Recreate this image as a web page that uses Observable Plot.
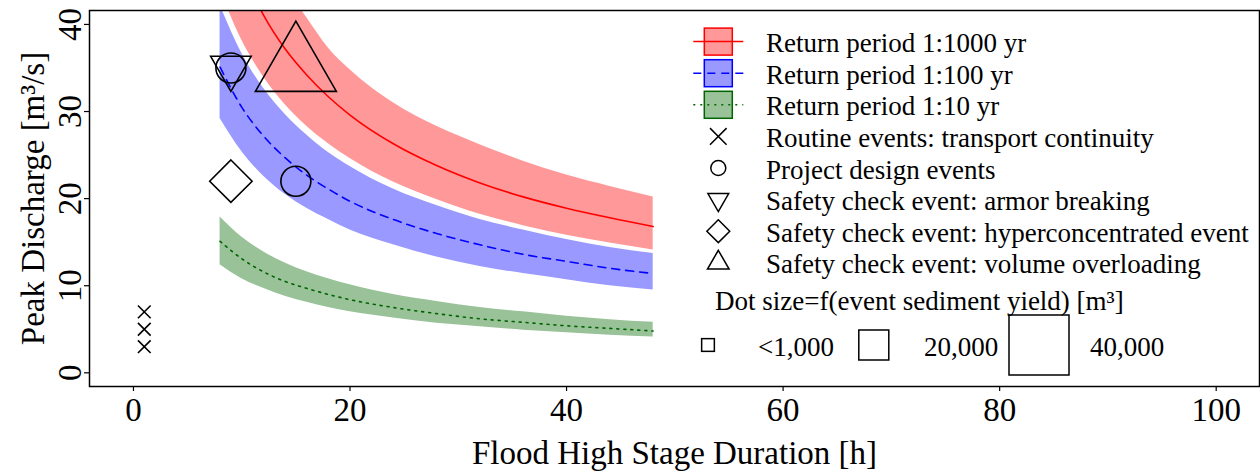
<!DOCTYPE html>
<html><head><meta charset="utf-8">
<script src="https://cdn.jsdelivr.net/npm/d3@7"></script>
<script src="https://cdn.jsdelivr.net/npm/@observablehq/plot@0.6"></script>
<style>
body{margin:0;background:#fff;}
#wrap{position:relative;width:1260px;height:472px;background:#fff;}
#wrap svg{position:absolute;left:0;top:0;}
</style></head><body><div id="wrap"></div>
<script>
// ---- data ----
const durations  = [8, 10, 12, 14, 16, 18, 20, 24, 28, 32, 36, 40, 44, 48];
const rp1000Low  = [44.0, 38.2, 34.0, 30.8, 28.3, 26.3, 24.6, 21.9, 19.9, 18.2, 16.9, 15.8, 14.9, 14.1];
const rp1000Mid  = [53.5, 46.3, 41.1, 37.2, 34.2, 31.7, 29.6, 26.3, 23.8, 21.8, 20.2, 18.9, 17.8, 16.8];
const rp1000High = [63.6, 55.1, 49.0, 44.4, 40.8, 37.3, 34.8, 31.0, 28.3, 26.2, 24.3, 22.7, 21.4, 20.2];
const rp100Low   = [29.2, 25.4, 22.6, 20.5, 18.9, 17.6, 16.4, 14.7, 13.3, 12.2, 11.4, 10.7, 10.0, 9.5];
const rp100Mid   = [35.1, 30.5, 27.2, 24.7, 22.7, 21.1, 19.7, 17.6, 16.0, 14.7, 13.6, 12.8, 12.0, 11.4];
const rp100High  = [42.2, 36.7, 32.7, 29.7, 27.3, 25.3, 23.7, 21.1, 19.2, 17.6, 16.4, 15.3, 14.4, 13.7];
const rp10Low    = [12.4, 10.8, 9.7, 8.8, 8.1, 7.5, 7.0, 6.3, 5.7, 5.3, 4.9, 4.6, 4.3, 4.1];
const rp10Mid    = [15.1, 13.1, 11.6, 10.5, 9.7, 9.0, 8.4, 7.5, 6.8, 6.2, 5.8, 5.4, 5.1, 4.8];
const rp10High   = [17.9, 15.6, 13.9, 12.6, 11.6, 10.8, 10.1, 9.0, 8.2, 7.5, 7.0, 6.5, 6.1, 5.8];

const bandLabels = ["Return period 1:1000 yr", "Return period 1:100 yr", "Return period 1:10 yr"];

const eventDuration = [1, 1, 1, 9, 15, 9, 9, 15];
const eventPeak     = [3, 5, 7, 35, 22, 35, 22, 35];
const eventType     = ["routine", "routine", "routine", "design", "design", "armor", "hyper", "volume"];
const eventYield    = [1000, 1000, 1000, 20000, 20000, 20000, 20000, 40000];

const eventTypes  = ["routine", "design", "armor", "hyper", "volume"];
const eventLabels = ["Routine events: transport continuity", "Project design events",
  "Safety check event: armor breaking", "Safety check event: hyperconcentrated event",
  "Safety check event: volume overloading"];

const sizeValues = [1000, 20000, 40000];
const sizeLabels = ["<1,000", "20,000", "40,000"];

const xTicks = [0, 20, 40, 60, 80, 100];
const yTicks = [0, 10, 20, 30, 40];
const xTitle = "Flood High Stage Duration [h]";
const yTitle = "Peak Discharge [m³/s]";
const sizeTitle = "Dot size=f(event sediment yield) [m³]";

// ---- styles ----
const serif = "'Liberation Serif','Times New Roman',serif";
const bands = [
  {low: rp1000Low, mid: rp1000Mid, high: rp1000High, fill: "#ff9999", stroke: "#ff0000", dash: null},
  {low: rp100Low,  mid: rp100Mid,  high: rp100High,  fill: "#9999ff", stroke: "#0000ff", dash: "8,6"},
  {low: rp10Low,   mid: rp10Mid,   high: rp10High,   fill: "#99c299", stroke: "#006400", dash: "2,5"}
];

// shape drawers: r = half side of the reference square
const shapes = {
  routine(ctx, r) { ctx.moveTo(-r, -r); ctx.lineTo(r, r); ctx.moveTo(-r, r); ctx.lineTo(r, -r); },
  design(ctx, r) { ctx.moveTo(r, 0); ctx.arc(0, 0, r, 0, 2 * Math.PI); },
  armor(ctx, r) { const s = 2.7 * r, h = s * Math.sqrt(3) / 2;
    ctx.moveTo(0, 2 * h / 3); ctx.lineTo(s / 2, -h / 3); ctx.lineTo(-s / 2, -h / 3); ctx.closePath(); },
  hyper(ctx, r) { const d = r * Math.SQRT2;
    ctx.moveTo(0, -d); ctx.lineTo(d, 0); ctx.lineTo(0, d); ctx.lineTo(-d, 0); ctx.closePath(); },
  volume(ctx, r) { const s = 2.7 * r, h = s * Math.sqrt(3) / 2;
    ctx.moveTo(0, -2 * h / 3); ctx.lineTo(s / 2, h / 3); ctx.lineTo(-s / 2, h / 3); ctx.closePath(); }
};
const symbolObj = (t) => ({draw(ctx, size) { shapes[t](ctx, Math.sqrt(size / Math.PI)); }});

const events = eventDuration.map((d, i) => ({d, q: eventPeak[i], type: eventType[i], yield: eventYield[i]}));

const marks = [];
bands.forEach(b => {
  marks.push(Plot.areaY(durations, {x: d => d, y1: (d, i) => b.low[i], y2: (d, i) => b.high[i],
    fill: b.fill, curve: "monotone-x", clip: true}));
});
bands.forEach(b => {
  marks.push(Plot.line(durations, {x: d => d, y: (d, i) => b.mid[i], stroke: b.stroke, strokeWidth: 1.6,
    strokeDasharray: b.dash, curve: "monotone-x", clip: true}));
});
eventTypes.forEach(t => {
  marks.push(Plot.dot(events.filter(e => e.type === t), {x: "d", y: "q", r: "yield",
    symbol: symbolObj(t), stroke: "black", strokeWidth: 1.6, fill: "none"}));
});
marks.push(
  Plot.axisX({ticks: xTicks, tickSize: 5, tickPadding: 6, label: null, fontSize: 33, stroke: "black", strokeWidth: 1.2}),
  Plot.axisY({ticks: yTicks, tickSize: 5, tickFormat: () => "", label: null, stroke: "black", strokeWidth: 1.2}),
  Plot.text(yTicks, {y: d => d, text: d => String(d), frameAnchor: "left", dx: -9, rotate: -90,
    lineAnchor: "bottom", textAnchor: "middle", fontSize: 33, fill: "black"}),
  Plot.text([xTitle], {frameAnchor: "bottom", dy: 77, lineAnchor: "bottom", textAnchor: "middle", fontSize: 33, text: d => d, fill: "black"}),
  Plot.text([yTitle], {frameAnchor: "left", dx: -46, rotate: -90, lineAnchor: "bottom", textAnchor: "middle", fontSize: 33, text: d => d, fill: "black"}),
  Plot.frame({stroke: "black", strokeWidth: 1.5})
);

const chart = Plot.plot({
  width: 1260, height: 472,
  marginLeft: 89, marginRight: 1, marginTop: 10, marginBottom: 86,
  x: {domain: [-4.06, 104]},
  y: {domain: [-1.57, 41.6]},
  r: {type: "linear", domain: sizeValues, range: [6.35, 15, 30]},
  style: {fontFamily: serif, fontSize: "33px", background: "white", color: "black"},
  marks
});
document.getElementById("wrap").appendChild(chart);

// ---- legend overlay ----
const rScale = chart.scale("r");
const L = d3.select("#wrap").append("svg").attr("width", 1260).attr("height", 472)
  .style("font-family", serif).style("font-size", "27px").style("pointer-events", "none");
const base0 = 52.2, step = 31.6, keyX = 718.3, textX = 766;
bands.forEach((b, i) => {
  const cy = base0 + i * step - 10.6;
  L.append("rect").attr("x", keyX - 14).attr("y", cy - 13.5).attr("width", 28).attr("height", 27)
    .attr("fill", b.fill).attr("stroke", b.stroke).attr("stroke-width", 1.5);
  L.append("line").attr("x1", keyX - 25).attr("x2", keyX + 25).attr("y1", cy).attr("y2", cy)
    .attr("stroke", b.stroke).attr("stroke-width", 1.5).attr("stroke-dasharray", b.dash);
  L.append("text").attr("x", textX).attr("y", base0 + i * step).text(bandLabels[i]);
});
const legendR = {routine: 8.3, design: 7.5, armor: 7.7, hyper: 8.1, volume: 8.0};
eventTypes.forEach((t, j) => {
  const i = j + 3, cy = base0 + i * step - 10.6;
  const p = d3.path(); shapes[t](p, legendR[t]);
  L.append("path").attr("d", p.toString()).attr("transform", `translate(${keyX},${cy})`)
    .attr("fill", "none").attr("stroke", "black").attr("stroke-width", 1.5);
  L.append("text").attr("x", textX).attr("y", base0 + i * step).text(eventLabels[j]);
});
L.append("text").attr("x", 715).attr("y", 310).text(sizeTitle);
const sqX = [708, 873.8, 1039], lblX = [758, 924, 1090];
sizeValues.forEach((v, i) => {
  const r = rScale.apply(v);
  L.append("rect").attr("x", sqX[i] - r).attr("y", 345 - r).attr("width", 2 * r).attr("height", 2 * r)
    .attr("fill", "none").attr("stroke", "black").attr("stroke-width", 1.5);
  L.append("text").attr("x", lblX[i]).attr("y", 355.5).text(sizeLabels[i]);
});
</script></body></html>
